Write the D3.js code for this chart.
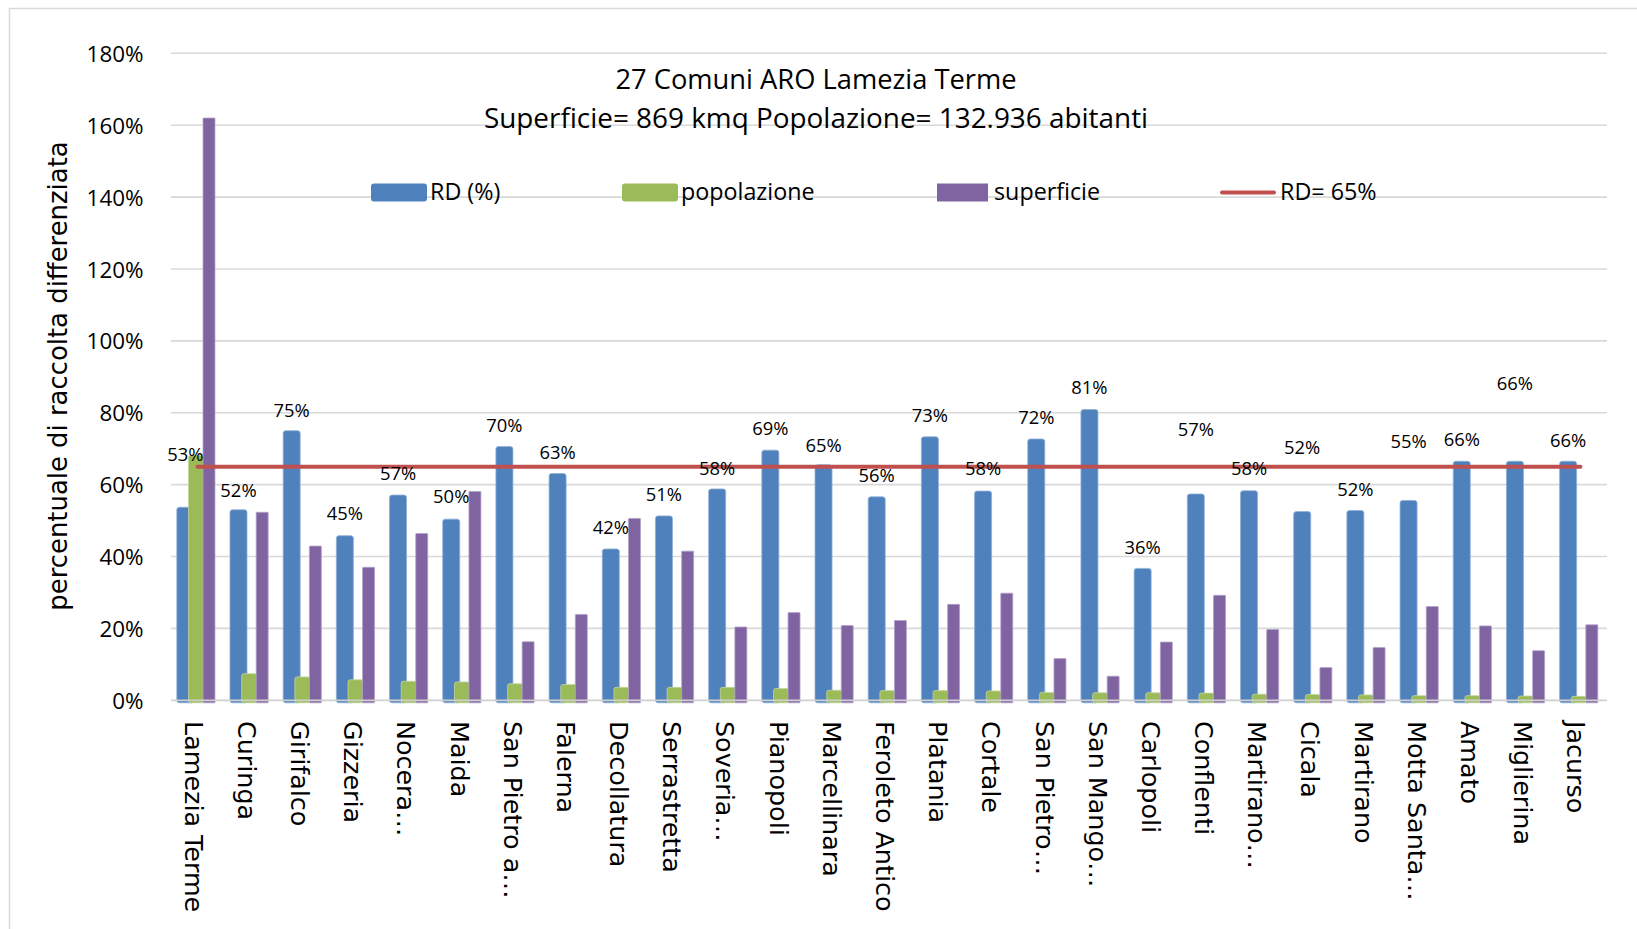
<!DOCTYPE html>
<html>
<head>
<meta charset="utf-8">
<script src="https://cdn.jsdelivr.net/npm/d3@7"></script>
<style>
  html, body { margin: 0; padding: 0; background: #ffffff; }
  svg { display: block; }
</style>
</head>
<body>
<script>
// ---------------- DATA ----------------
const categories = ["Lamezia Terme","Curinga","Girifalco","Gizzeria","Nocera…","Maida","San Pietro a…","Falerna","Decollatura","Serrastretta","Soveria…","Pianopoli","Marcellinara","Feroleto Antico","Platania","Cortale","San Pietro…","San Mango…","Carlopoli","Conflenti","Martirano…","Cicala","Martirano","Motta Santa…","Amato","Miglierina","Jacurso"];
const rdValues = [0.537,0.530,0.750,0.458,0.571,0.504,0.706,0.631,0.421,0.513,0.588,0.696,0.655,0.566,0.733,0.582,0.727,0.809,0.367,0.574,0.583,0.525,0.528,0.556,0.665,0.665,0.665];
const popolazioneValues = [0.681,0.074,0.065,0.057,0.053,0.051,0.046,0.044,0.036,0.036,0.036,0.033,0.028,0.027,0.027,0.026,0.022,0.021,0.021,0.020,0.017,0.016,0.015,0.013,0.013,0.012,0.011];
const superficieValues = [1.620,0.523,0.429,0.370,0.464,0.581,0.163,0.239,0.506,0.415,0.204,0.244,0.208,0.222,0.267,0.298,0.116,0.067,0.162,0.292,0.197,0.091,0.147,0.261,0.207,0.138,0.210];
const labelTexts = ["53%","52%","75%","45%","57%","50%","70%","63%","42%","51%","58%","69%","65%","56%","73%","58%","72%","81%","36%","57%","58%","52%","52%","55%","66%","66%","66%"];
const labelLevels = [0.685,0.585,0.807,0.519,0.631,0.567,0.764,0.690,0.481,0.572,0.646,0.756,0.710,0.625,0.792,0.644,0.787,0.870,0.426,0.753,0.644,0.704,0.588,0.720,0.725,0.883,0.722];
const targetRD = 0.65;
const yTicks = [0,0.2,0.4,0.6,0.8,1.0,1.2,1.4,1.6,1.8];
const seriesNames = ["RD (%)","popolazione","superficie","RD= 65%"];
const titleLines = ["27 Comuni ARO Lamezia Terme","Superficie= 869 kmq Popolazione= 132.936 abitanti"];
const yTitle = "percentuale di raccolta differenziata";

// ---------------- LAYOUT ----------------
const W = 1637, H = 929;
const colors = { rd: "#4F81BD", pop: "#9BBB59", sup: "#8064A2", target: "#C0504D" };
const calibriLike = "'Open Sans', 'Liberation Sans', Arial, sans-serif";
const verdanaLike = "'DejaVu Sans', Verdana, sans-serif";

const svg = d3.select("body").append("svg").attr("width", W).attr("height", H);
svg.append("rect").attr("width", W).attr("height", H).attr("fill", "#fff");

// chart border (left & top visible)
svg.append("path").attr("d", "M9.5,929 L9.5,8.5 L1637,8.5")
  .attr("fill", "none").attr("stroke", "#d9d9d9").attr("stroke-width", 1.5);

const x = d3.scaleBand().domain(categories).range([171, 1607]).padding(0);
const y = d3.scaleLinear().domain([0, 1.8]).range([700.3, 53.3]);
const bw = x.bandwidth();

// gridlines
svg.append("g").selectAll("line").data(yTicks.filter(d => d > 0)).join("line")
  .attr("x1", 171).attr("x2", 1607)
  .attr("y1", d => y(d)).attr("y2", d => y(d))
  .attr("stroke", "#d9d9d9").attr("stroke-width", 1.6);

// y tick labels
const yAxis = d3.axisLeft(y).tickValues(yTicks).tickFormat(d3.format(".0%")).tickSize(0).tickPadding(0);
const yg = svg.append("g").attr("transform", "translate(143.5,0)").call(yAxis);
yg.select(".domain").remove();
yg.selectAll("text").attr("font-family", calibriLike).attr("font-size", 22.4).attr("fill", "#000").attr("dy", "0.36em");

// bars
const base = y(0) + 2.5;
function drawBars(values, f0, f1, color, stroke, rx) {
  svg.append("g").selectAll("rect").data(values).join("rect")
    .attr("x", (d, i) => x(categories[i]) + bw * f0)
    .attr("width", bw * (f1 - f0))
    .attr("y", d => y(d))
    .attr("height", d => base - y(d))
    .attr("rx", rx).attr("ry", rx)
    .attr("fill", color)
    .attr("stroke", stroke).attr("stroke-width", 0.8);
}
drawBars(rdValues, 0.109, 0.429, colors.rd, "#8fb0d8", 2.5);
drawBars(popolazioneValues, 0.329, 0.611, colors.pop, "#c3d69b", 2);
drawBars(superficieValues, 0.602, 0.827, colors.sup, "#b3a2c7", 0.5);

// zero axis line
svg.append("line").attr("x1", 171).attr("x2", 1607).attr("y1", y(0)).attr("y2", y(0))
  .attr("stroke", "#d0d0d0").attr("stroke-width", 1.8);

// RD=65% target line
const targetLine = d3.line().x(d => x(d) + bw / 2).y(() => y(targetRD));
svg.append("path").datum(categories).attr("d", targetLine)
  .attr("fill", "none").attr("stroke", colors.target).attr("stroke-width", 4).attr("stroke-linecap", "round");

// data labels
svg.append("g").selectAll("text").data(labelTexts).join("text")
  .attr("x", (d, i) => x(categories[i]) + bw * 0.269)
  .attr("y", (d, i) => y(labelLevels[i]))
  .attr("dy", "0.36em")
  .attr("text-anchor", "middle")
  .attr("font-family", calibriLike).attr("font-size", 18.4).attr("fill", "#000")
  .text(d => d);

// category labels (rotated)
svg.append("g").selectAll("text").data(categories).join("text")
  .attr("transform", d => `translate(${x(d) + bw / 2 - 13},721) rotate(90)`)
  .attr("text-anchor", "start")
  .attr("font-family", verdanaLike).attr("font-size", 25.4).attr("fill", "#000")
  .text(d => d);

// y axis title
svg.append("text")
  .attr("transform", "translate(67,376) rotate(-90)")
  .attr("text-anchor", "middle")
  .attr("font-family", verdanaLike).attr("font-size", 25.9).attr("fill", "#000")
  .text(yTitle);

// chart title
svg.append("g").selectAll("text").data(titleLines).join("text")
  .attr("x", 816).attr("y", (d, i) => [89.3, 128.3][i])
  .attr("text-anchor", "middle")
  .attr("font-family", calibriLike).attr("font-size", (d, i) => [27.3, 27.9][i]).attr("fill", "#000")
  .text(d => d);

// legend
const legendX = [371, 622, 937, 1221];
const legendColors = [colors.rd, colors.pop, colors.sup, colors.target];
const lg = svg.append("g");
seriesNames.forEach((name, i) => {
  const lx = legendX[i];
  if (i < 3) {
    lg.append("rect").attr("x", lx).attr("y", 183.5).attr("width", i === 2 ? 51 : 56).attr("height", 18)
      .attr("rx", i === 2 ? 0 : 3).attr("fill", legendColors[i]);
  } else {
    lg.append("line").attr("x1", lx + 1).attr("x2", lx + 53).attr("y1", 192.5).attr("y2", 192.5)
      .attr("stroke", legendColors[i]).attr("stroke-width", 4).attr("stroke-linecap", "round");
  }
  lg.append("text").attr("x", lx + (i === 2 ? 57 : 59)).attr("y", 200)
    .attr("font-family", calibriLike).attr("font-size", 23.3).attr("fill", "#000")
    .text(name);
});
</script>
</body>
</html>
